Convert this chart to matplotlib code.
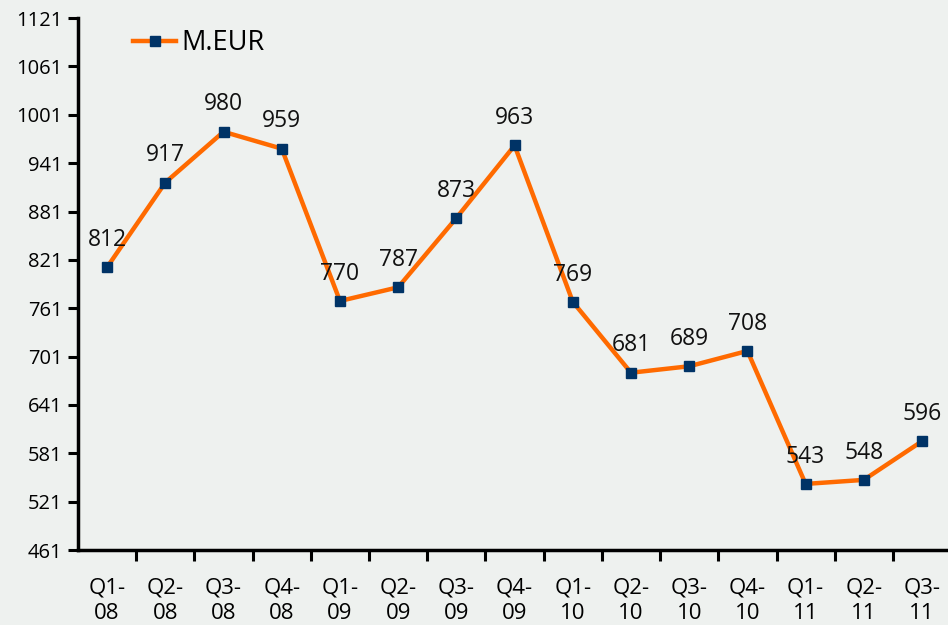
import matplotlib.pyplot as plt
import numpy as np

# data
quarters = ["Q1-\n08", "Q2-\n08", "Q3-\n08", "Q4-\n08",
            "Q1-\n09", "Q2-\n09", "Q3-\n09", "Q4-\n09",
            "Q1-\n10", "Q2-\n10", "Q3-\n10", "Q4-\n10",
            "Q1-\n11", "Q2-\n11", "Q3-\n11"]
meur = [812, 917, 980, 959, 770, 787, 873, 963, 769, 681, 689, 708, 543, 548, 596]
y_ticks = [461, 521, 581, 641, 701, 761, 821, 881, 941, 1001, 1061, 1121]

plt.rcParams['font.family'] = ['Open Sans', 'DejaVu Sans']
bg = '#eef1ef'

fig = plt.figure(figsize=(9.48, 6.25), dpi=100, facecolor=bg)
ax = fig.add_axes([0.0823, 0.12, 0.921, 0.851])
ax.set_facecolor(bg)

x = np.arange(len(meur))
ax.plot(x, meur, color='#ff6a00', lw=3.2, marker='s', ms=6.5,
        mfc='#003366', mec='#003366', label='M.EUR', zorder=3)

for xi, v in zip(x, meur):
    ax.annotate(str(v), (xi, v), xytext=(0, 11), textcoords='offset points',
                ha='center', va='bottom', fontsize=16.5, color='#111111')

ax.set_xlim(-0.5, len(meur) - 0.5)
ax.set_ylim(461, 1121)
ax.set_yticks(y_ticks)
ax.tick_params(axis='y', labelsize=14.5, length=7, width=2.2, direction='out', pad=4)

# tick marks between categories, labels under each category
ax.set_xticks(np.arange(0.5, len(meur), 1.0))
ax.set_xticklabels([])
ax.set_xticks(x, minor=True)
ax.set_xticklabels(quarters, minor=True, fontsize=16, linespacing=1.25)
ax.tick_params(axis='x', which='major', length=8, width=2.2, direction='out')
ax.tick_params(axis='x', which='minor', length=0, pad=20)

for s in ['top', 'right']:
    ax.spines[s].set_visible(False)
for s in ['left', 'bottom']:
    ax.spines[s].set_linewidth(2.5)

leg = ax.legend(loc='upper left', bbox_to_anchor=(0.035, 1.025), frameon=False,
                fontsize=19.5, handlelength=1.6, handletextpad=0.2)

fig.savefig('out.png', dpi=100, facecolor=bg)
